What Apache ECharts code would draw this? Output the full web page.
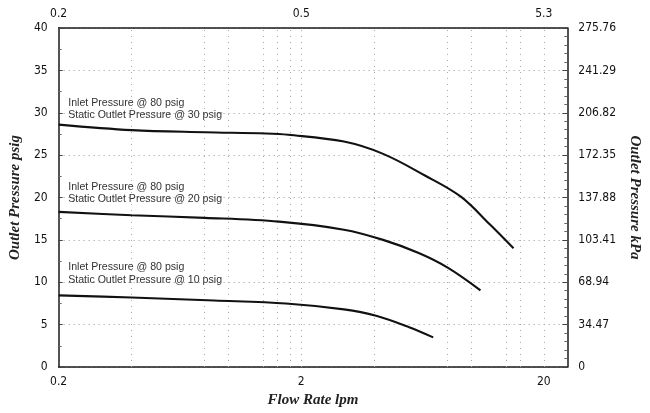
<!DOCTYPE html>
<html>
<head>
<meta charset="utf-8">
<script src="https://cdn.jsdelivr.net/npm/echarts@6/dist/echarts.min.js"></script>
<style>html,body{margin:0;padding:0;background:#fff}#c{width:650px;height:413px}</style>
</head>
<body>
<div id="c"></div>
<script>
// ---- data ----
const curve30 = [[0.2,28.6],[0.4,27.95],[0.8,27.7],[1.43,27.55],[1.77,27.4],[3.0,26.6],[4.35,25.15],[6.47,22.6],[9.1,20.1],[12.0,16.8],[15.0,14.0]];
const curve20 = [[0.2,18.3],[0.4,17.9],[0.8,17.6],[1.62,17.15],[3.0,16.2],[4.35,15.0],[6.1,13.45],[8.06,11.7],[10.96,9.05]];
const curve10 = [[0.2,8.45],[0.4,8.2],[0.875,7.85],[1.73,7.5],[3.0,6.8],[4.07,6.05],[5.57,4.7],[7.0,3.5]];
const bottomTickValues = [0.2, 2, 20];
const topTickLabels = ['0.2', '0.5', '5.3'];
const gridXValues = [0.4, 0.8, 1, 1.4, 1.6, 1.8, 2, 4, 8, 10, 14, 16, 20];
const annotations = [
  {coord:[0.219,30.46], text:'Inlet Pressure @ 80 psig\nStatic Outlet Pressure @ 30 psig'},
  {coord:[0.219,20.5], text:'Inlet Pressure @ 80 psig\nStatic Outlet Pressure @ 20 psig'},
  {coord:[0.219,11.0], text:'Inlet Pressure @ 80 psig\nStatic Outlet Pressure @ 10 psig'}
];

const narrow = "'Liberation Sans Narrow','DejaVu Sans Condensed','Arial Narrow','Liberation Sans',sans-serif";
const serifTitle = {fontFamily:"'Liberation Serif','Times New Roman',serif", fontStyle:'italic', fontWeight:'bold', fontSize:15, color:'#222'};
const lineCol = '#1a1a1a';

const chart = echarts.init(document.getElementById('c'), null, {renderer:'canvas'});

function curveSeries(data, ann) {
  return {
    type:'line', data:data, xAxisIndex:0, yAxisIndex:0, smooth:0.35, showSymbol:false, symbol:'none',
    lineStyle:{color:'#111', width:2.1}, silent:true, z:5,
    markPoint:{
      symbol:'circle', symbolSize:0, silent:true,
      data:[{coord:ann.coord, value:ann.text}],
      label:{show:true, position:'right', distance:0, formatter:ann.text, align:'left', verticalAlign:'middle',
        fontFamily:"'Liberation Sans',Arial,sans-serif", fontSize:10.6, lineHeight:12.5, color:'#333'}
    }
  };
}

const option = {
  animation:false,
  backgroundColor:'#fff',
  grid:{left:57, right:71, top:28, bottom:43, containLabel:false},
  xAxis:[
    {type:'log', logBase:10, min:0.2, max:25, position:'bottom',
     name:'Flow Rate lpm', nameLocation:'middle', nameGap:26, nameTextStyle:serifTitle,
     axisLine:{show:true, onZero:false, lineStyle:{color:lineCol, width:1.5}},
     axisTick:{show:false}, splitLine:{show:false}, minorTick:{show:false},
     axisLabel:{customValues:bottomTickValues, margin:9, fontFamily:narrow, fontSize:12, color:'#111',
       formatter:function(v){ return String(+v.toPrecision(3)); }}},
    {type:'log', logBase:10, min:0.2, max:25, position:'top',
     axisLine:{show:true, onZero:false, lineStyle:{color:lineCol, width:1.5}},
     axisTick:{show:false}, splitLine:{show:false},
     axisLabel:{customValues:bottomTickValues, margin:8, fontFamily:narrow, fontSize:12, color:'#111',
       formatter:function(v){
         let best=0, bd=1e9;
         bottomTickValues.forEach(function(t,i){ const d=Math.abs(Math.log(t)-Math.log(v)); if(d<bd){bd=d;best=i;} });
         return topTickLabels[best];
       }}}
  ],
  yAxis:[
    {type:'value', min:0, max:40, interval:5, position:'left',
     name:'Outlet Pressure psig', nameLocation:'middle', nameGap:30, nameTextStyle:serifTitle,
     axisLine:{show:true, onZero:false, lineStyle:{color:lineCol, width:1.5}},
     axisTick:{show:true, inside:true, length:4, lineStyle:{color:'#444'}},
     minorTick:{show:true, splitNumber:2, length:3, lineStyle:{color:'#666'}},
     splitLine:{show:true, lineStyle:{color:'#9a9a9a', type:[1,4], width:1}},
     axisLabel:{margin:11, fontFamily:narrow, fontSize:12, color:'#111'}},
    {type:'value', min:0, max:275.76, interval:34.47, position:'right',
     name:'Outlet Pressure kPa', nameLocation:'middle', nameGap:48, nameRotate:-90, nameTextStyle:serifTitle,
     axisLine:{show:true, onZero:false, lineStyle:{color:lineCol, width:1.5}},
     axisTick:{show:true, inside:true, length:5, lineStyle:{color:'#444'}},
     minorTick:{show:true, splitNumber:5, length:3, lineStyle:{color:'#666'}},
     splitLine:{show:false},
     axisLabel:{margin:11, fontFamily:narrow, fontSize:12, color:'#111',
       formatter:function(v){ return v===0 ? '0' : v.toFixed(2); }}}
  ],
  series:[
    {type:'line', data:[], xAxisIndex:0, yAxisIndex:0, silent:true,
     markLine:{symbol:'none', silent:true, label:{show:false},
       lineStyle:{color:'#a8a8a8', type:[1,5], width:1},
       data:gridXValues.map(function(v){ return {xAxis:v}; })}},
    curveSeries(curve30, annotations[0]),
    curveSeries(curve20, annotations[1]),
    curveSeries(curve10, annotations[2])
  ]
};
chart.setOption(option);
</script>
</body>
</html>
